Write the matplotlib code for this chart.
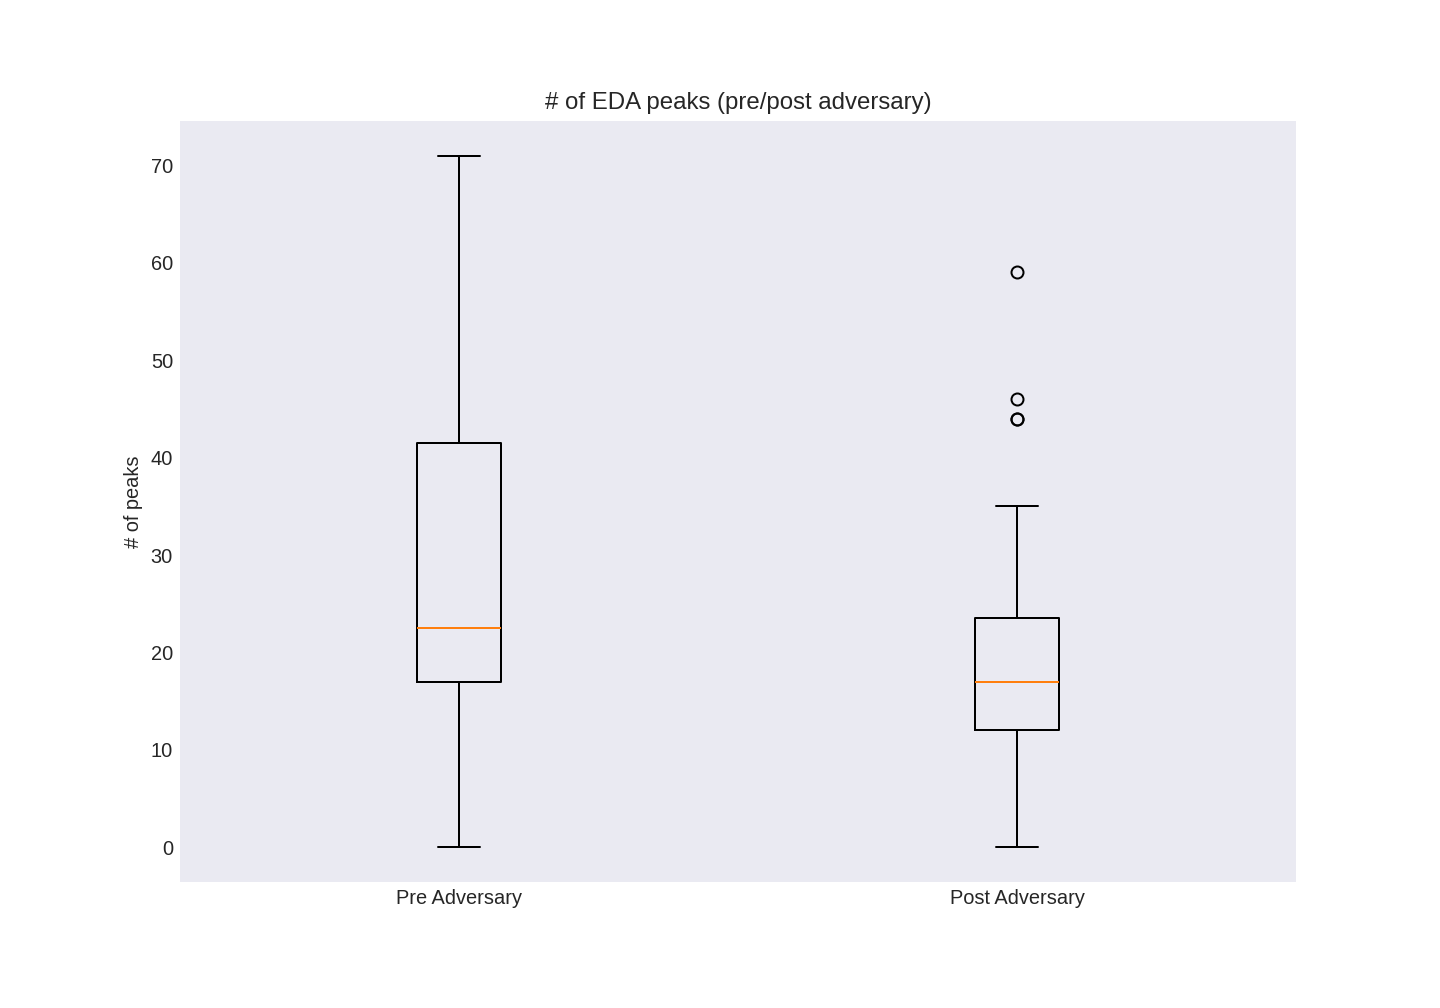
import matplotlib
matplotlib.use("Agg")
import matplotlib.pyplot as plt

plt.style.use("seaborn-v0_8-dark")
plt.rcParams["font.family"] = ["Liberation Sans", "DejaVu Sans"]

labels = ["Pre Adversary", "Post Adversary"]
whislo = [0, 0]
q1 = [17, 12]
med = [22.5, 17]
q3 = [41.5, 23.5]
whishi = [71, 35]
fliers = [[], [44, 44, 46, 59]]

stats = []
for i in range(len(labels)):
    stats.append(dict(label=labels[i], whislo=whislo[i], q1=q1[i], med=med[i],
                      q3=q3[i], whishi=whishi[i], fliers=fliers[i]))

fig = plt.figure(figsize=(10, 7), dpi=144)
ax = fig.add_subplot(111)
fig.subplots_adjust(left=0.125, right=0.9, bottom=0.125, top=0.88)

ax.bxp(stats, widths=0.15,
       boxprops=dict(color="black", linewidth=1),
       whiskerprops=dict(color="black", linewidth=1),
       capprops=dict(color="black", linewidth=1),
       medianprops=dict(color="#ff7f0e", linewidth=1),
       flierprops=dict(marker="o", markerfacecolor="none", markeredgecolor="black",
                       markersize=6, linestyle="none"))

ax.set_title("# of EDA peaks (pre/post adversary)", fontsize=12, color=".15")
ax.set_ylabel("# of peaks", fontsize=10, color=".15")
ax.tick_params(axis="both", labelsize=10, colors=".15", length=0)
for s in ax.spines.values():
    s.set_visible(False)

fig.savefig("out.png", dpi=144)
